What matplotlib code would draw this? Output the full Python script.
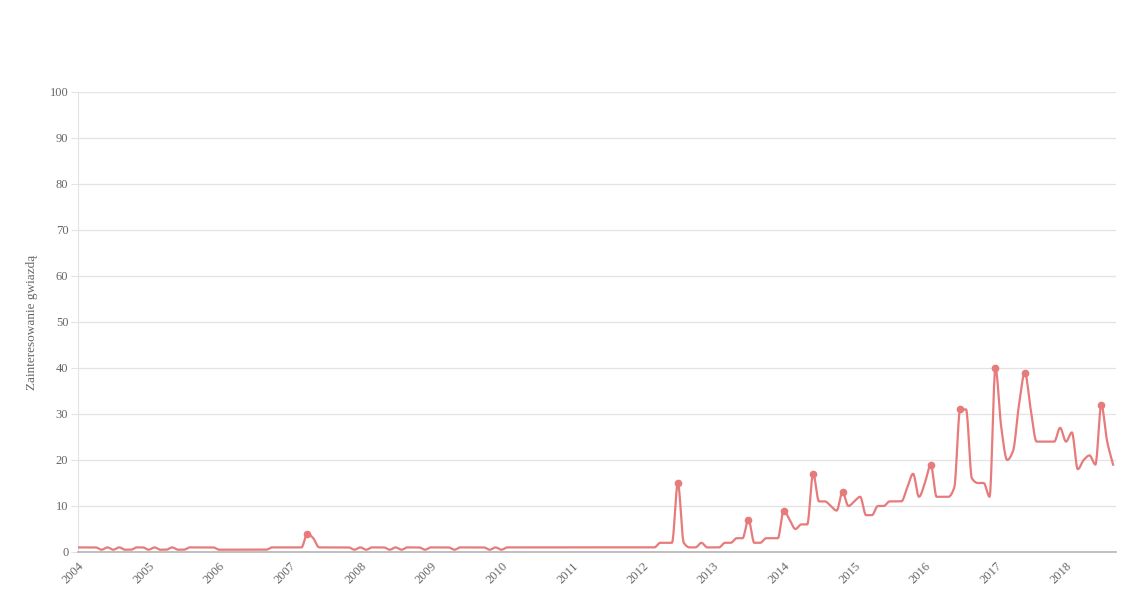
import numpy as np
import matplotlib.pyplot as plt

# monthly interest, Jan 2004 .. Sep 2018
years = list(range(2004, 2019))
values = [1, 1, 1, 1, 0.5, 1, 0.5, 1, 0.5, 0.5, 1, 1,
          0.5, 1, 0.5, 0.5, 1, 0.5, 0.5, 1, 1, 1, 1, 1,
          0.5, 0.5, 0.5, 0.5, 0.5, 0.5, 0.5, 0.5, 0.5, 1, 1, 1,
          1, 1, 1, 4, 3, 1, 1, 1, 1, 1, 1, 0.5,
          1, 0.5, 1, 1, 1, 0.5, 1, 0.5, 1, 1, 1, 0.5,
          1, 1, 1, 1, 0.5, 1, 1, 1, 1, 1, 0.5, 1,
          0.5, 1, 1, 1, 1, 1, 1, 1, 1, 1, 1, 1,
          1, 1, 1, 1, 1, 1, 1, 1, 1, 1, 1, 1,
          1, 1, 1, 2, 2, 2, 15, 2, 1, 1, 2, 1,
          1, 1, 2, 2, 3, 3, 7, 2, 2, 3, 3, 3,
          9, 7, 5, 6, 6, 17, 11, 11, 10, 9, 13, 10,
          11, 12, 8, 8, 10, 10, 11, 11, 11, 14, 17, 12,
          15, 19, 12, 12, 12, 14, 31, 31, 16, 15, 15, 12,
          40, 27, 20, 22, 32, 39, 31, 24, 24, 24, 24, 27,
          24, 26, 18, 20, 21, 19, 32, 24, 19]
peak_months = [39, 102, 114, 120, 125, 130, 145, 150, 156, 161, 174]

line_color = "#e77b7b"


def monotone_curve(x, y, n=16):
    # monotone cubic (like d3 curveMonotoneX) for drawing the line
    x = np.asarray(x, float)
    y = np.asarray(y, float)
    h = np.diff(x)
    d = np.diff(y) / h
    m = np.zeros_like(y)
    m[0], m[-1] = d[0], d[-1]
    for k in range(1, len(y) - 1):
        if d[k - 1] * d[k] <= 0:
            m[k] = 0
        else:
            w1 = 2 * h[k] + h[k - 1]
            w2 = h[k] + 2 * h[k - 1]
            m[k] = (w1 + w2) / (w1 / d[k - 1] + w2 / d[k])
    t = np.linspace(0, 1, n, endpoint=False)
    xs, ys = [], []
    for k in range(len(y) - 1):
        h00 = 2 * t**3 - 3 * t**2 + 1
        h10 = t**3 - 2 * t**2 + t
        h01 = -2 * t**3 + 3 * t**2
        h11 = t**3 - t**2
        xs.append(x[k] + t * h[k])
        ys.append(h00 * y[k] + h10 * h[k] * m[k] + h01 * y[k + 1] + h11 * h[k] * m[k + 1])
    xs.append([x[-1]])
    ys.append([y[-1]])
    return np.concatenate(xs), np.concatenate(ys)


months = np.arange(len(values))
cx, cy = monotone_curve(months, values)

fig = plt.figure(figsize=(11.47, 6.01), dpi=100)
ax = fig.add_axes([78 / 1147, 49 / 601, 1038 / 1147, 460 / 601])

ax.plot(cx, cy, color=line_color, linewidth=1.6, zorder=3)
ax.plot(peak_months, [values[i] for i in peak_months], "o", color=line_color,
        markersize=4.5, zorder=4)

ax.set_xlim(0, 176.5)
ax.set_ylim(0, 100)
ax.set_yticks(range(0, 101, 10))
ax.set_xticks([12 * (y - 2004) for y in years])
ax.set_xticklabels([str(y) for y in years], rotation=45, ha="right", va="top",
                   rotation_mode="anchor")

ax.grid(axis="y", color="#e3e3e3", linewidth=0.9)
ax.set_axisbelow(True)
for s in ["top", "right"]:
    ax.spines[s].set_visible(False)
ax.spines["left"].set_color("#e3e3e3")
ax.spines["bottom"].set_color("#b5b5b5")
ax.spines["bottom"].set_linewidth(1.2)

ax.tick_params(axis="y", length=5, color="#e3e3e3", labelsize=9, labelcolor="#666666", pad=2)
ax.tick_params(axis="x", length=0, labelsize=9, labelcolor="#666666", pad=6)
for lab in ax.get_xticklabels() + ax.get_yticklabels():
    lab.set_family("Liberation Serif")

ax.set_ylabel("Zainteresowanie gwiazdą", family="Liberation Serif", fontsize=9.5,
              color="#666666", labelpad=8)

plt.savefig("out.png", dpi=100)
